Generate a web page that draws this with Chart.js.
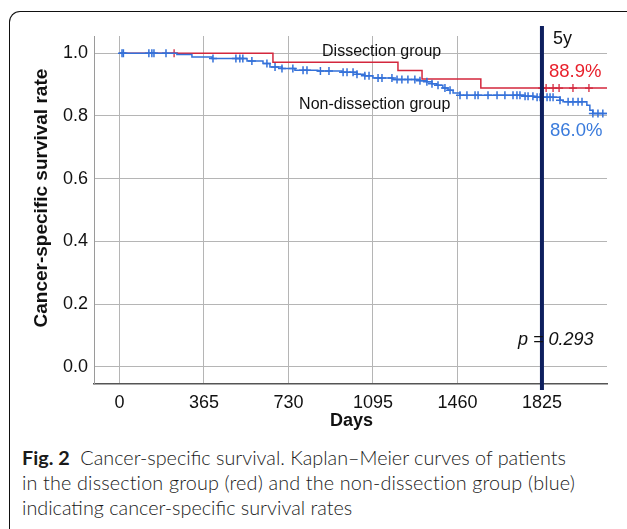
<!DOCTYPE html>
<html><head><meta charset="utf-8">
<script src="https://cdn.jsdelivr.net/npm/chart.js@4"></script>
<style>
html,body{margin:0;padding:0;background:#fff;width:627px;height:529px;overflow:hidden;}
#frame{position:absolute;left:9px;top:11px;width:660px;height:540px;border-top:1.5px solid #111;border-left:1.5px solid #111;border-top-left-radius:11px;}
#wrap{position:absolute;left:0;top:0;width:627px;height:440px;}
#cap{position:absolute;left:22px;top:445px;font-family:Lato,'Open Sans',sans-serif;font-size:19.8px;line-height:25px;color:#1a1a1a;font-weight:300;white-space:nowrap}
#cap b{font-weight:700}
#cap .l2{letter-spacing:0.15px}
</style></head><body>
<div id="frame"></div>
<div id="wrap"><canvas id="c" width="627" height="440"></canvas></div>
<div id="cap"><div><b>Fig. 2</b>&nbsp; Cancer-specific survival. Kaplan–Meier curves of patients</div><div class="l2">in the dissection group (red) and the non-dissection group (blue)</div><div>indicating cancer-specific survival rates</div></div>
<script>
// ---- data ----
const xTicks = [0, 365, 730, 1095, 1460, 1825];
const yTicks = [0.0, 0.2, 0.4, 0.6, 0.8, 1.0];
const lastDay = 2106;
const fiveYear = 1825;

const redDays = [0, 663, 1203, 1307, 1561];
const redSurv = [1.0, 0.971, 0.945, 0.918, 0.889];
const redCensor = [236, 1826, 1843, 1873, 1899, 1959, 2028];

const blueDays = [0, 248, 313, 400, 551, 620, 650, 702, 758, 857, 961, 1026, 1060, 1095, 1181, 1298, 1328, 1350, 1371, 1397, 1419, 1441, 1471, 1752, 1790, 1903, 1916, 2019, 2032, 2045];
const blueSurv = [1.0, 0.996, 0.988, 0.983, 0.975, 0.967, 0.956, 0.951, 0.946, 0.943, 0.939, 0.933, 0.928, 0.921, 0.916, 0.912, 0.909, 0.903, 0.898, 0.889, 0.882, 0.873, 0.866, 0.863, 0.860, 0.850, 0.845, 0.834, 0.818, 0.808];
const blueCensor = [11, 17, 127, 140, 149, 201, 404, 503, 520, 533, 572, 637, 672, 702, 749, 793, 810, 868, 905, 966, 983, 1009, 1026, 1060, 1078, 1117, 1134, 1177, 1199, 1220, 1246, 1276, 1298, 1328, 1350, 1376, 1406, 1428, 1471, 1501, 1536, 1549, 1592, 1631, 1665, 1700, 1717, 1730, 1752, 1765, 1786, 1804, 1817, 1830, 1847, 1860, 1873, 1903, 1938, 1959, 1981, 1998, 2045, 2067, 2088];

const redRate = '88.9%';
const blueRate = '86.0%';
const pText = 'p = 0.293';

// ---- helpers ----
function curve(days, surv) {
  const pts = days.map((d, i) => ({x: d, y: surv[i]}));
  pts.push({x: lastDay, y: surv[surv.length - 1]});
  return pts;
}
function survAt(days, surv, t) {
  let v = surv[0];
  for (let i = 0; i < days.length; i++) { if (days[i] <= t) v = surv[i]; }
  return v;
}
function marks(days, surv, cens) {
  return cens.map(t => ({x: t, y: survAt(days, surv, t)}));
}

const RED = '#d3273d', BLUE = '#3471d9';
const FONT = "'Liberation Sans', Arial, Helvetica, sans-serif";

const overlay = {
  id: 'overlay',
  afterDatasetsDraw(chart) {
    const {ctx, scales: {x, y}, chartArea} = chart;
    ctx.save();
    // 5-year line
    const x5 = x.getPixelForValue(fiveYear);
    ctx.strokeStyle = '#0e1f5e';
    ctx.lineWidth = 4;
    ctx.beginPath();
    ctx.moveTo(x5, chartArea.top - 10);
    ctx.lineTo(x5, chartArea.bottom + 6);
    ctx.stroke();

    ctx.textBaseline = 'middle';
    ctx.textAlign = 'left';
    ctx.fillStyle = '#111';
    ctx.font = '18px ' + FONT;
    ctx.fillText('5y', x5 + 11, chartArea.top + 3);

    ctx.font = '16px ' + FONT;
    ctx.fillText('Dissection group', x.getPixelForValue(875), y.getPixelForValue(1.006));
    ctx.fillText('Non-dissection group', x.getPixelForValue(776), y.getPixelForValue(0.837));

    ctx.font = '18.5px ' + FONT;
    ctx.fillStyle = '#e8202c';
    ctx.fillText(redRate, x5 + 7, y.getPixelForValue(0.940));
    ctx.fillStyle = '#3a7bdc';
    ctx.fillText(blueRate, x5 + 8, y.getPixelForValue(0.751));

    ctx.fillStyle = '#111';
    ctx.font = 'italic 18px ' + FONT;
    ctx.fillText(pText, x5 - 24, y.getPixelForValue(0.086));

    // axis titles
    ctx.font = 'bold 18px ' + FONT;
    ctx.textAlign = 'center';
    ctx.fillText('Days', (chartArea.left + chartArea.right) / 2 + 1, chartArea.bottom + 37);
    ctx.translate(42, y.getPixelForValue(0.538));
    ctx.rotate(-Math.PI / 2);
    ctx.font = 'bold 19px ' + FONT;
    ctx.fillText('Cancer-specific survival rate', 0, 0);
    ctx.restore();
  }
};

new Chart(document.getElementById('c'), {
  type: 'line',
  data: {
    datasets: [
      {data: curve(redDays, redSurv), borderColor: RED, borderWidth: 1.5, stepped: 'before', pointRadius: 0, fill: false, order: 2},
      {data: marks(redDays, redSurv, redCensor), showLine: false, pointStyle: 'cross', pointRadius: 4, borderColor: RED, borderWidth: 1.3, order: 2},
      {data: curve(blueDays, blueSurv), borderColor: BLUE, borderWidth: 1.5, stepped: 'before', pointRadius: 0, fill: false, order: 1},
      {data: marks(blueDays, blueSurv, blueCensor), showLine: false, pointStyle: 'cross', pointRadius: 4, borderColor: BLUE, borderWidth: 1.5, order: 1}
    ]
  },
  options: {
    responsive: false,
    animation: false,
    devicePixelRatio: 1,
    layout: {padding: {top: 36, right: 20, left: 0, bottom: 0}},
    plugins: {legend: {display: false}, tooltip: {enabled: false}},
    scales: {
      x: {
        type: 'linear', min: -110, max: lastDay,
        afterBuildTicks: s => { s.ticks = xTicks.map(v => ({value: v})); },
        afterFit: s => { s.height = 56; },
        grid: {color: '#b5b5b5', lineWidth: 1, drawTicks: false},
        border: {color: '#555', width: 1.5},
        ticks: {padding: 8, color: '#111', font: {family: FONT, size: 18}, callback: v => String(v)}
      },
      y: {
        type: 'linear', min: -0.055, max: 1.055,
        afterBuildTicks: s => { s.ticks = yTicks.map(v => ({value: v})); },
        afterFit: s => { s.width = 94; },
        grid: {color: '#b5b5b5', lineWidth: 1, drawTicks: false},
        border: {color: '#9a9a9a', width: 1},
        ticks: {padding: 6, color: '#111', font: {family: FONT, size: 18}, callback: v => Number(v).toFixed(1)}
      }
    }
  },
  plugins: [overlay]
});
</script>
</body></html>
